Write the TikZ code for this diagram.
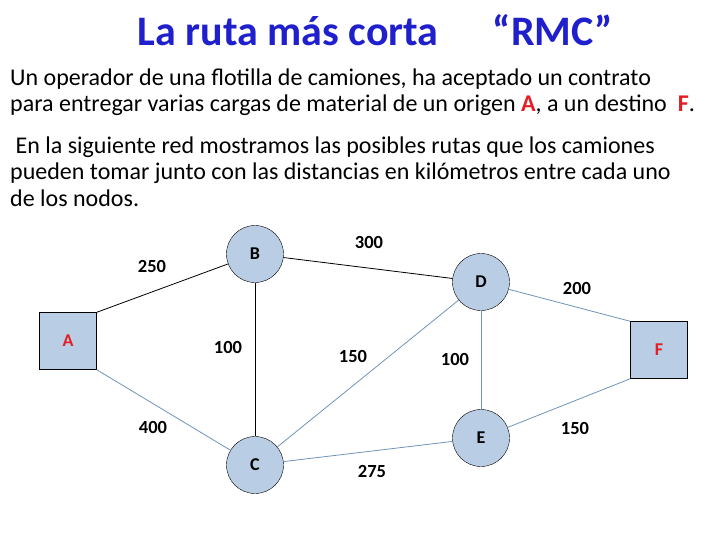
\documentclass[tikz,border=0pt]{standalone}
\usepackage{fontspec}
\setmainfont{Carlito}
\definecolor{tblue}{HTML}{1F1FCC}
\definecolor{nfill}{HTML}{B9CDE5}
\definecolor{ebl}{HTML}{6E94BA}
\definecolor{fred}{HTML}{E31E24}
\begin{document}
\begin{tikzpicture}[x=1pt,y=-1pt,
  circ/.style={circle,draw=black,fill=nfill,minimum size=57pt,inner sep=0pt,font=\fontsize{18}{20}\selectfont\bfseries},
  sq/.style={rectangle,draw=black,fill=nfill,minimum size=57pt,inner sep=0pt,font=\fontsize{18}{20}\selectfont\bfseries\color{fred}},
  lbl/.style={font=\fontsize{18.5}{20}\selectfont\bfseries},
  txt/.style={anchor=base west,inner sep=0pt,font=\fontsize{24}{26}\selectfont},
  blk/.style={draw=black,line width=0.8pt},
  bl/.style={draw=ebl,line width=0.8pt}]
\useasboundingbox (0,0) rectangle (728,546);
\node[font=\fontsize{42}{46}\selectfont\bfseries,text=tblue,anchor=base] (t1) at (288,45) {La ruta más corta};
\node[font=\fontsize{42}{46}\selectfont\bfseries,text=tblue,anchor=base] (t2) at (553,45) {“RMC”};
\node[txt] (l1) at (10,85) {Un operador de una flotilla de camiones, ha aceptado un contrato};
\node[txt] (l2) at (10,111) {para entregar varias cargas de material de un origen \textcolor{fred}{\textbf{A}}, a un destino\ \ \textcolor{fred}{\textbf{F}}.};
\node[txt] (l3) at (10,153) {\ En la siguiente red mostramos las posibles rutas que los camiones};
\node[txt] (l4) at (10,179) {pueden tomar junto con las distancias en kilómetros entre cada uno};
\node[txt] (l5) at (10,206) {de los nodos.};
\node[sq] (A) at (68,341) {A};
\node[sq] (F) at (659,350) {F};
\node[circ] (B) at (255,254) {B};
\node[circ] (D) at (481,282) {D};
\node[circ] (C) at (255,465) {C};
\node[circ] (E) at (481,438) {E};
\draw[blk] (A.north east) -- (B);
\draw[blk] (B) -- (D);
\draw[blk] (B) -- (C);
\draw[bl] (A.south east) -- (C);
\draw[bl] (C) -- (D);
\draw[bl] (C) -- (E);
\draw[bl] (D) -- (E);
\draw[bl] (D) -- (F.north west);
\draw[bl] (E) -- (F.south west);
\node[lbl] (w1) at (152,266) {250};
\node[lbl] (w2) at (369,242) {300};
\node[lbl] (w3) at (577,288) {200};
\node[lbl] (w4) at (228,347) {100};
\node[lbl] (w5) at (353,356) {150};
\node[lbl] (w6) at (455,359) {100};
\node[lbl] (w7) at (153,427) {400};
\node[lbl] (w8) at (575,428) {150};
\node[lbl] (w9) at (372,471) {275};
\end{tikzpicture}
\end{document}
